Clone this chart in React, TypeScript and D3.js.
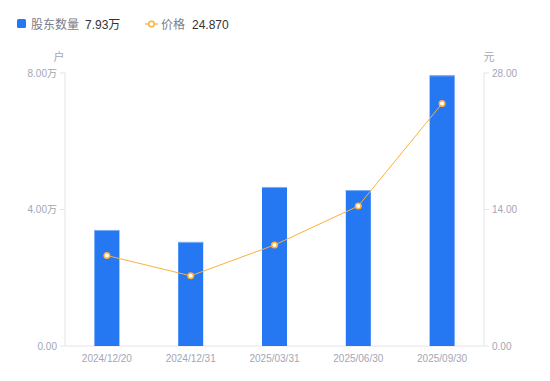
import React from "react";
import * as d3 from "d3";

const categories = ["2024/12/20", "2024/12/31", "2025/03/31", "2025/06/30", "2025/09/30"];
const holders = [3.4, 3.05, 4.66, 4.57, 7.93]; // 万户
const prices = [9.28, 7.2, 10.36, 14.36, 24.87]; // 元
const leftTicks = [0, 4, 8];
const rightTicks = [0, 14, 28];

const W = 550;
const H = 381;
const M = { left: 65, right: 484, top: 73, bottom: 346 };
const FONT = "'Liberation Sans', Arial, 'Noto Sans CJK SC', sans-serif";
const BLUE = "#2577F2";
const ORANGE = "#FBB13C";
const GRAY = "#a3a6b4";
const AXIS = "#e3e4e8";

export default function App() {
  const x = d3.scaleBand<string>().domain(categories).range([M.left, M.right]);
  const yL = d3.scaleLinear().domain([0, 8]).range([M.bottom, M.top]);
  const yR = d3.scaleLinear().domain([0, 28]).range([M.bottom, M.top]);
  const bw = 25;
  const cx = (c: string) => (x(c) as number) + x.bandwidth() / 2;
  const line = d3
    .line<number>()
    .x((_, i) => cx(categories[i]))
    .y((d) => yR(d));

  return (
    <svg width={W} height={H} style={{ position: "absolute", left: 0, top: 0, fontFamily: FONT }}>
      {/* legend */}
      <rect x={17} y={19} width={9} height={9} rx={1.5} fill={BLUE} />
      <text x={31} y={28.5} fontSize={12} fill="#7a7d89">股东数量</text>
      <text x={85} y={28.5} fontSize={12} fill="#333">7.93万</text>
      <line x1={145} x2={158} y1={24} y2={24} stroke={ORANGE} strokeWidth={1.2} />
      <circle cx={151.5} cy={24} r={2.8} fill="#fff" stroke={ORANGE} strokeWidth={1.5} />
      <text x={161} y={28.5} fontSize={12} fill="#7a7d89">价格</text>
      <text x={192} y={28.5} fontSize={12} fill="#333">24.870</text>

      {/* axis titles */}
      <text x={59} y={61} fontSize={11} fill={GRAY} textAnchor="middle">户</text>
      <text x={489} y={61} fontSize={11} fill={GRAY} textAnchor="middle">元</text>

      {/* axes */}
      <line x1={M.left} x2={M.left} y1={M.top} y2={M.bottom} stroke={AXIS} />
      <line x1={M.right} x2={M.right} y1={M.top} y2={M.bottom} stroke={AXIS} />
      <line x1={M.left} x2={M.right} y1={M.bottom} y2={M.bottom} stroke={AXIS} />
      {leftTicks.map((t) => (
        <g key={"l" + t}>
          <line x1={M.left - 5} x2={M.left} y1={yL(t)} y2={yL(t)} stroke={AXIS} />
          <text x={M.left - 8} y={yL(t) + 3.5} fontSize={10} fill={GRAY} textAnchor="end">
            {t === 0 ? "0.00" : t.toFixed(2) + "万"}
          </text>
        </g>
      ))}
      {rightTicks.map((t) => (
        <g key={"r" + t}>
          <line x1={M.right} x2={M.right + 5} y1={yR(t)} y2={yR(t)} stroke={AXIS} />
          <text x={M.right + 8} y={yR(t) + 3.5} fontSize={10} fill={GRAY}>
            {t.toFixed(2)}
          </text>
        </g>
      ))}
      {categories.map((c) => (
        <text key={c} x={cx(c)} y={362} fontSize={10} fill={GRAY} textAnchor="middle">
          {c}
        </text>
      ))}

      {/* bars */}
      {holders.map((v, i) => (
        <g key={"b" + i}>
          <rect x={cx(categories[i]) - bw / 2} y={yL(v)} width={bw} height={M.bottom - yL(v)} fill={BLUE} />
          <line
            x1={cx(categories[i]) - bw / 2}
            x2={cx(categories[i]) + bw / 2}
            y1={yL(v) + 0.5}
            y2={yL(v) + 0.5}
            stroke="#7fb0f7"
          />
        </g>
      ))}

      {/* line */}
      <path d={line(prices) || ""} fill="none" stroke={ORANGE} strokeWidth={1} />
      {prices.map((v, i) => (
        <circle key={"p" + i} cx={cx(categories[i])} cy={yR(v)} r={2.8} fill="#fff" stroke={ORANGE} strokeWidth={1.5} />
      ))}
    </svg>
  );
}
